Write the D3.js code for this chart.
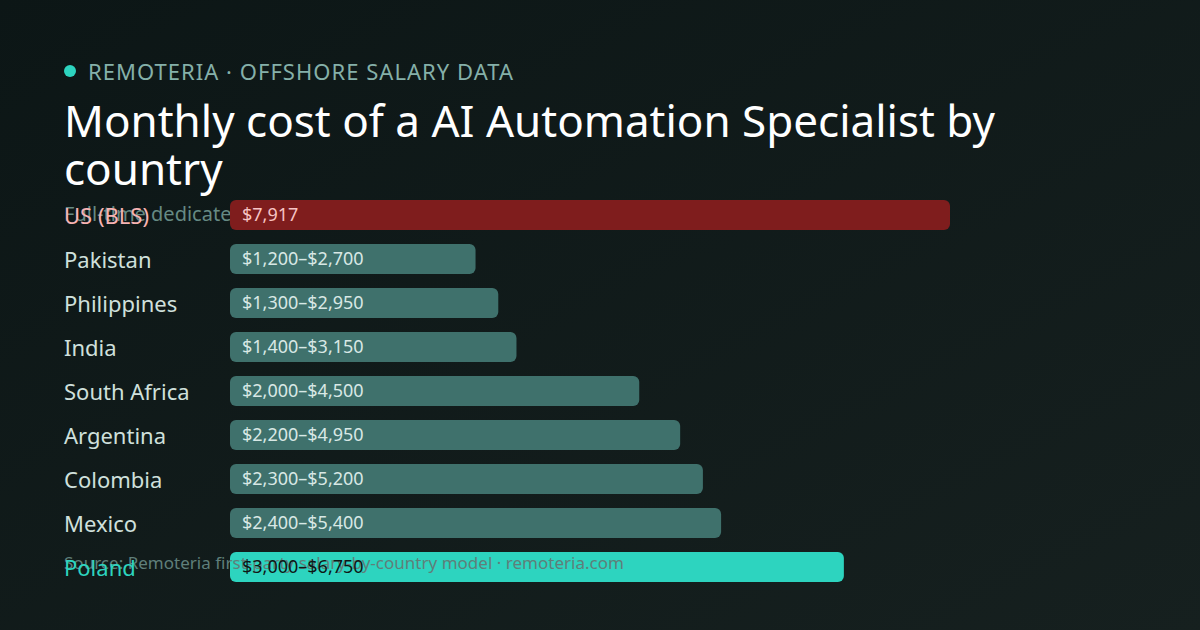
<!DOCTYPE html>
<html>
<head>
<meta charset="utf-8">
<script src="https://cdn.jsdelivr.net/npm/d3@7"></script>
<style>
  html, body { margin: 0; padding: 0; background: #0e1716; }
  svg { display: block; }
  text { font-family: "Noto Sans", sans-serif; }
</style>
</head>
<body>
<svg id="chart" width="1200" height="630"></svg>
<script>
// values
let countries = ["US (BLS)", "Pakistan", "Philippines", "India", "South Africa", "Argentina", "Colombia", "Mexico", "Poland"];
let lowValues = [null, 1200, 1300, 1400, 2000, 2200, 2300, 2400, 3000];
let highValues = [7917, 2700, 2950, 3150, 4500, 4950, 5200, 5400, 6750];
let kinds = ["us", "other", "other", "other", "other", "other", "other", "other", "highlight"];

let eyebrow = "REMOTERIA · OFFSHORE SALARY DATA";
let titleLines = ["Monthly cost of a AI Automation Specialist by", "country"];
let subtitle = "Full-time dedicated talent, USD per month";
let source = "Source: Remoteria first-party salary-by-country model · remoteria.com";

let barFill = { us: "#7f1d1d", other: "#3f716c", highlight: "#2dd4bf" };
let labelFill = { us: "#f6b3b3", other: "#cfe0dc", highlight: "#2dd4bf" };
let valueFill = { us: "#f7c4c4", other: "#d8e8e5", highlight: "#0e1716" };

let svg = d3.select("#chart");

let grad = svg.append("defs").append("linearGradient")
              .attr("id", "bg")
              .attr("gradientUnits", "userSpaceOnUse")
              .attr("x1", 285).attr("y1", -285)
              .attr("x2", 915).attr("y2", 915);
grad.append("stop").attr("offset", "0%").attr("stop-color", "#0b1515");
grad.append("stop").attr("offset", "100%").attr("stop-color", "#172120");

svg.append("rect")
   .attr("width", 1200)
   .attr("height", 630)
   .attr("fill", "url(#bg)");

// header
svg.append("circle")
   .attr("cx", 70).attr("cy", 71).attr("r", 6)
   .attr("fill", "#2dd4bf");

svg.append("text")
   .attr("x", 88).attr("y", 80)
   .attr("font-size", 22)
   .attr("letter-spacing", 1.03)
   .attr("fill", "#85b0a9")
   .text(eyebrow);

svg.selectAll(".title")
   .data(titleLines)
   .enter()
   .append("text")
   .attr("class", "title")
   .attr("x", 64)
   .attr("y", (d, i) => 137 + i * 48)
   .attr("font-size", 44)
   .attr("fill", "#ffffff")
   .text(d => d);

// sits behind the bars, same as the picture
svg.append("text")
   .attr("x", 64).attr("y", 221)
   .attr("font-size", 20)
   .attr("fill", "#668a84")
   .text(subtitle);

let x = d3.scaleLinear()
          .domain([0, d3.max(highValues)])
          .range([230, 950]);

let y = d3.scaleBand()
          .domain(countries)
          .range([200, 582])
          .paddingInner(14 / 44)
          .paddingOuter(0)
          .align(0);

let rows = countries.map((c, i) => ({ country: c, low: lowValues[i], high: highValues[i], kind: kinds[i] }));

let fmt = d3.format("$,");

svg.selectAll(".bar")
   .data(rows)
   .enter()
   .append("rect")
   .attr("class", "bar")
   .attr("x", x(0))
   .attr("y", d => y(d.country))
   .attr("width", d => x(d.high) - x(0))
   .attr("height", y.bandwidth())
   .attr("rx", 6)
   .attr("fill", d => barFill[d.kind]);

// footer runs over the Poland bar but under its labels
svg.append("text")
   .attr("x", 64).attr("y", 569)
   .attr("font-size", 17)
   .attr("letter-spacing", 0.015)
   .attr("fill", "#5f7f7a")
   .text(source);

svg.selectAll(".country")
   .data(rows)
   .enter()
   .append("text")
   .attr("class", "country")
   .attr("x", 64)
   .attr("y", d => y(d.country) + 24)
   .attr("font-size", 22)
   .attr("fill", d => labelFill[d.kind])
   .text(d => d.country);

svg.selectAll(".value")
   .data(rows)
   .enter()
   .append("text")
   .attr("class", "value")
   .attr("x", x(0) + 12)
   .attr("y", d => y(d.country) + 21)
   .attr("font-size", 18)
   .attr("fill", d => valueFill[d.kind])
   .text(d => d.low == null ? fmt(d.high) : fmt(d.low) + "–" + fmt(d.high));
</script>
</body>
</html>
